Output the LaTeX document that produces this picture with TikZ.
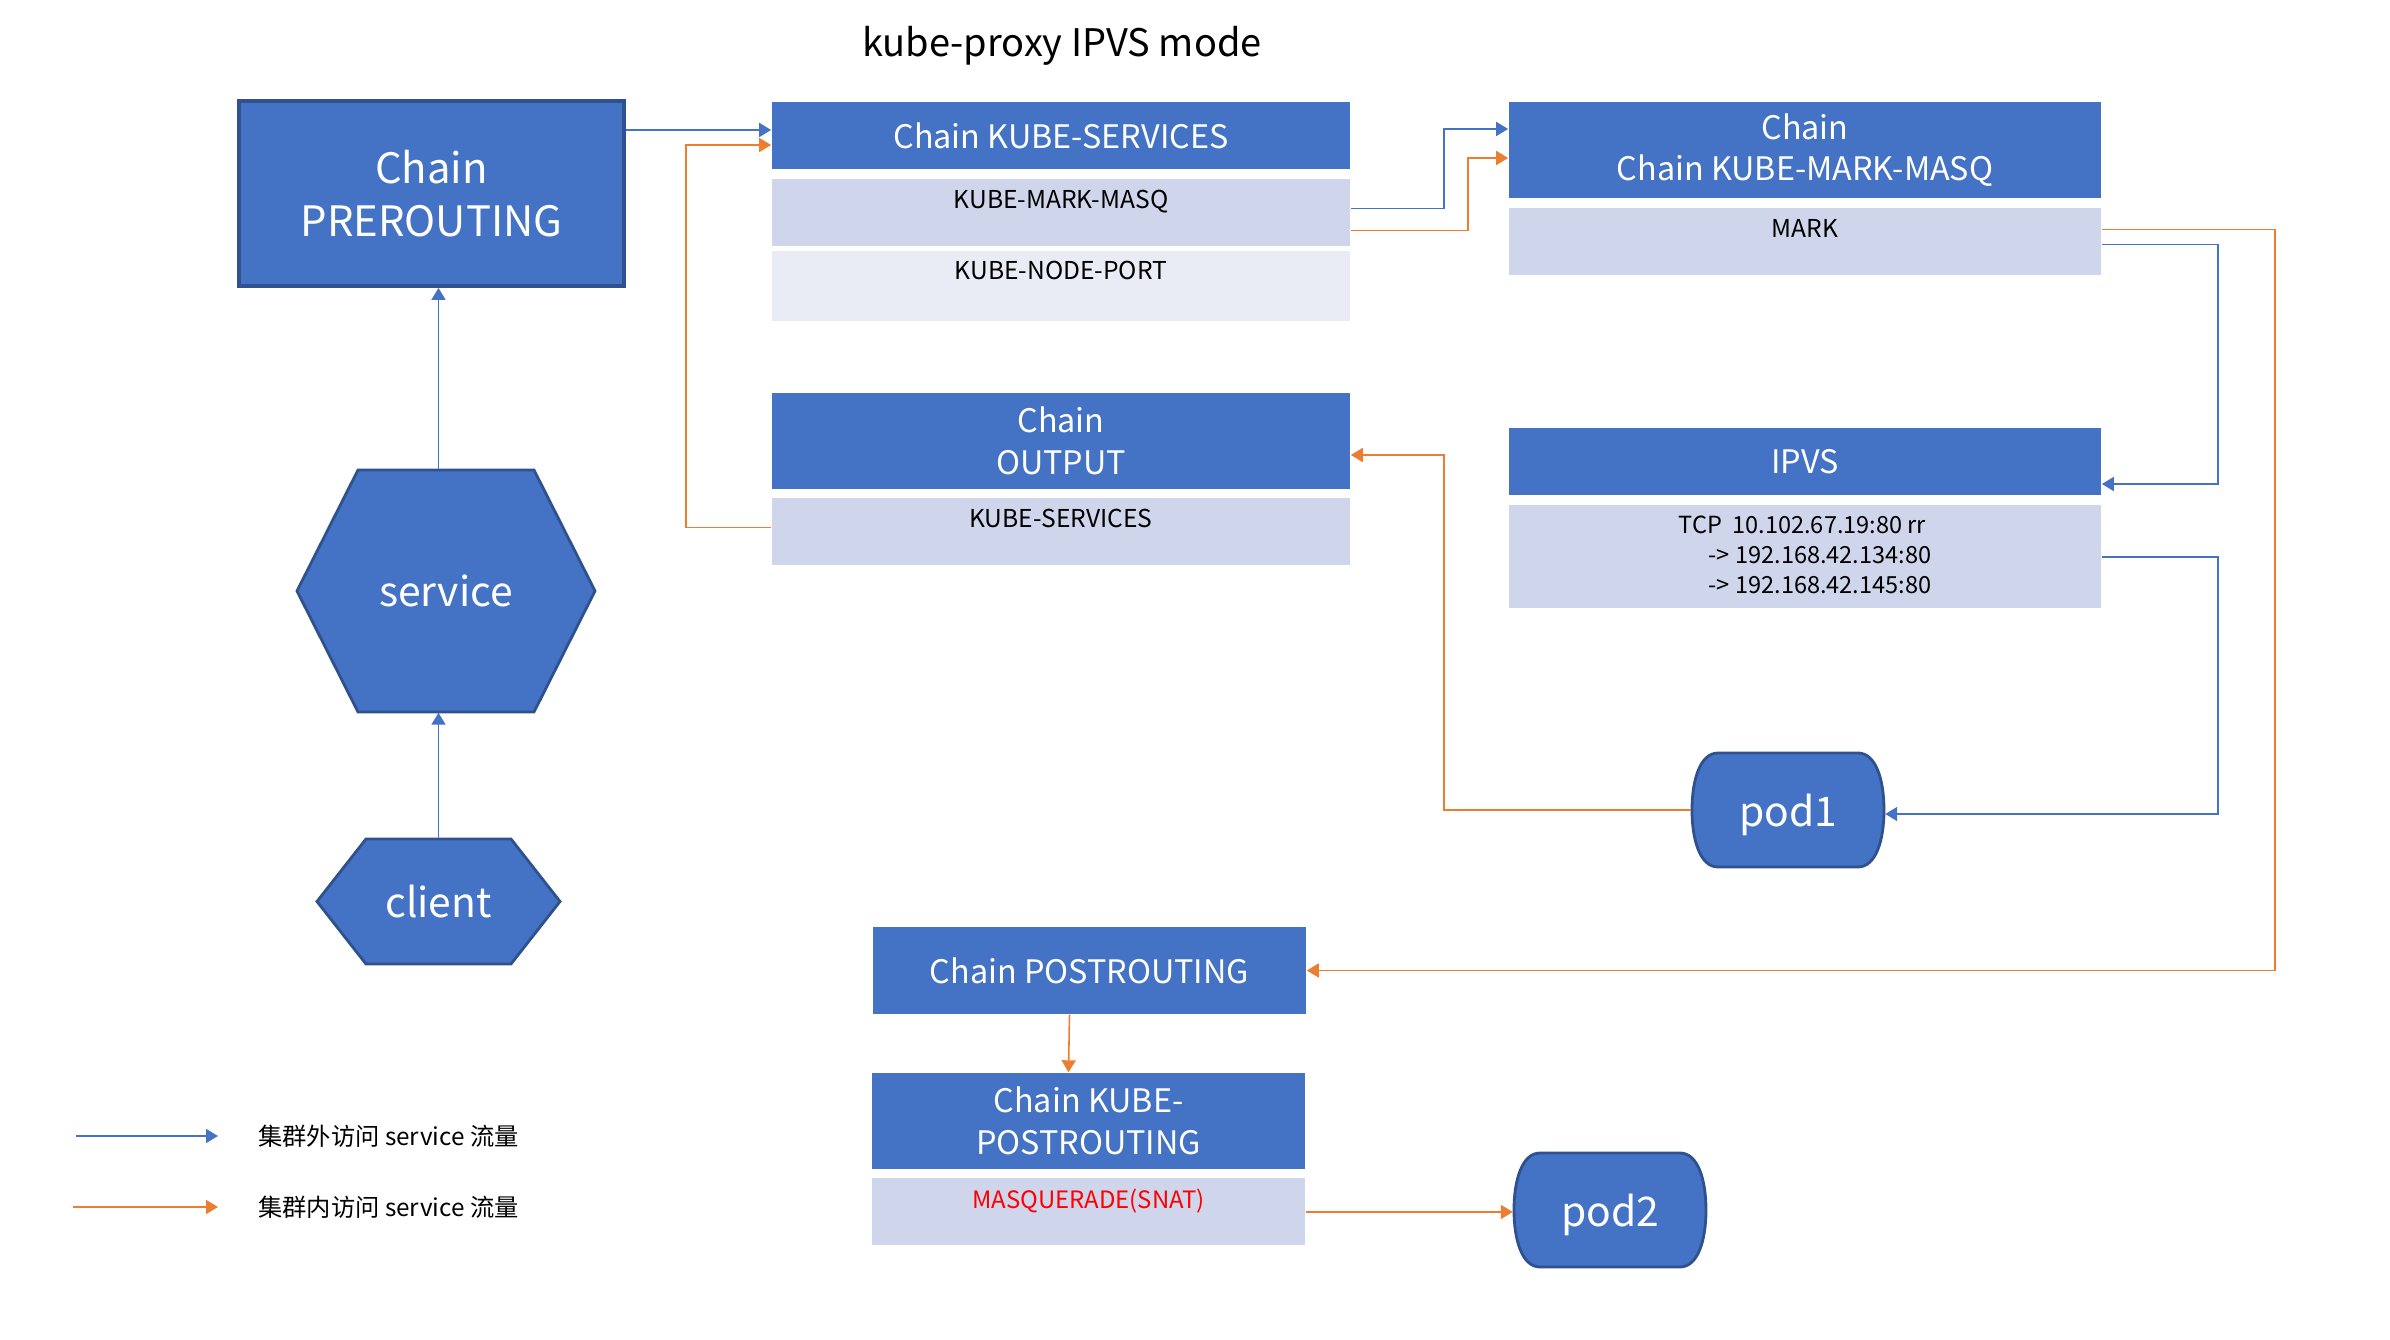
\documentclass[tikz,border=0pt]{standalone}
\usepackage{fontspec}
\setmainfont{Noto Sans CJK SC}
\usepackage{tikz}
\usetikzlibrary{positioning}
\usetikzlibrary{arrows.meta}
\usetikzlibrary{backgrounds}
\definecolor{boxblue}{HTML}{4472C4}
\definecolor{edgeblue}{HTML}{2F528F}
\definecolor{rowgrey}{HTML}{CFD5EA}
\definecolor{rowlight}{HTML}{E9EBF5}
\definecolor{lineorange}{HTML}{ED7D31}
\definecolor{masqred}{HTML}{FF0000}
\tikzset{
  headbox/.style={rectangle, fill=boxblue, text=white, align=center, inner sep=0pt, font=\fontsize{9.2}{11.8}\selectfont},
  rowbox/.style={rectangle, fill=rowgrey, inner sep=0pt},
  rowtext/.style={anchor=north, inner sep=3pt, align=left, font=\fontsize{7}{8.5}\selectfont},
  bigbox/.style={rectangle, fill=boxblue, draw=edgeblue, line width=1.1pt, text=white, align=center, font=\fontsize{11.9}{15.2}\selectfont},
  shapebox/.style={rectangle, inner sep=0pt, text=white, text depth=0pt, font=\fontsize{11.6}{14}\selectfont},
  pics/hexshape/.style n args={3}{code={
    \filldraw[fill=boxblue, draw=edgeblue, line width=0.8pt] (-#1,0) -- (-#1+#3,-#2) -- (#1-#3,-#2) -- (#1,0) -- (#1-#3,#2) -- (-#1+#3,#2) -- cycle;}},
  pics/podshape/.style={code={
    \filldraw[fill=boxblue, draw=edgeblue, line width=0.8pt] (-70,-57) -- (70,-57) .. controls (88,-57) and (96,-30) .. (96,0) .. controls (96,30) and (88,57) .. (70,57) -- (-70,57) .. controls (-88,57) and (-96,30) .. (-96,0) .. controls (-96,-30) and (-88,-57) .. (-70,-57) -- cycle;}},
  bluearrow/.style={draw=boxblue, line width=0.45pt, -{Triangle[length=3.4pt,width=4pt]}},
  orangearrow/.style={draw=lineorange, line width=0.45pt, -{Triangle[length=3.4pt,width=4pt]}},
}

\begin{document}
\begin{tikzpicture}[x=0.01cm, y=-0.01cm]
\useasboundingbox (0,0) rectangle (2390,1340);
\node[font=\fontsize{10.8}{13}\selectfont] (title) at (1062,46) {kube-proxy IPVS mode};

% left column
\node[bigbox, minimum width=3.85cm, minimum height=1.85cm] (prerouting) at (431.5,193.5) {Chain\\PREROUTING};
\node[shapebox, minimum width=2.98cm, minimum height=2.42cm] (service) at (446,591) {service};
\node[shapebox, minimum width=2.43cm, minimum height=1.25cm] (client) at (438.5,901.5) {client};

% chains
\node[headbox, minimum width=5.78cm, minimum height=0.67cm] (kubesvc) at (1061,135.5) {Chain KUBE-SERVICES};
\node[rowbox, minimum width=5.78cm, minimum height=0.67cm, below=0.09cm of kubesvc, label={[rowtext]north:KUBE-MARK-MASQ}] (svcmark) {};
\node[rowbox, fill=rowlight, minimum width=5.78cm, minimum height=0.70cm, below=0.03cm of svcmark, label={[rowtext]north:KUBE-NODE-PORT}] (svcnode) {};

\node[headbox, minimum width=5.78cm, minimum height=0.96cm] (output) at (1061,441) {Chain\\OUTPUT};
\node[rowbox, minimum width=5.78cm, minimum height=0.67cm, below=0.08cm of output, label={[rowtext]north:KUBE-SERVICES}] (outsvc) {};

\node[headbox, minimum width=5.92cm, minimum height=0.96cm] (masq) at (1805,150) {Chain\\Chain KUBE-MARK-MASQ};
\node[rowbox, minimum width=5.92cm, minimum height=0.67cm, below=0.09cm of masq, label={[rowtext]north:MARK}] (mark) {};

\node[headbox, minimum width=5.92cm, minimum height=0.67cm] (ipvs) at (1805,461.5) {IPVS};
\node[rowbox, minimum width=5.92cm, minimum height=1.03cm, below=0.09cm of ipvs,
  label={[rowtext, font=\fontsize{6.7}{8.5}\selectfont]north:TCP\ \ 10.102.67.19:80 rr\\\hspace*{8.6pt}-> 192.168.42.134:80\\\hspace*{8.6pt}-> 192.168.42.145:80}] (ipvsrule) {};

\node[headbox, minimum width=4.33cm, minimum height=0.87cm] (postrt) at (1089.5,970.5) {Chain POSTROUTING};
\node[headbox, minimum width=4.33cm, minimum height=0.96cm] (kpost) at (1088.5,1121) {Chain KUBE-\\POSTROUTING};
\node[rowbox, minimum width=4.33cm, minimum height=0.67cm, below=0.08cm of kpost, label={[rowtext, text=masqred, font=\fontsize{6.8}{8.5}\selectfont]north:MASQUERADE(SNAT)}] (kpostsnat) {};

\node[shapebox, minimum width=1.93cm, minimum height=1.15cm] (pod1) at (1788,810) {pod1};
\node[shapebox, minimum width=1.93cm, minimum height=1.15cm] (pod2) at (1610,1210) {pod2};

\begin{scope}[on background layer]
\pic at (service.center) {hexshape={149}{121}{61}};
\pic at (client.center) {hexshape={121.5}{62.5}{49}};
\pic at (pod1.center) {podshape};
\pic at (pod2.center) {podshape};
\end{scope}

% connectors
\draw[bluearrow] (client.north) -- (client.north |- service.south);
\draw[bluearrow] (client.north |- service.north) -- (client.north |- prerouting.south);
\draw[bluearrow] ([yshift=0.055cm]prerouting.east |- kubesvc.west) -- ([yshift=0.055cm]kubesvc.west);
\draw[orangearrow] ([yshift=0.045cm]outsvc.west) -- ++(-85,0) |- ([yshift=-0.095cm]kubesvc.west);
\draw[bluearrow] ([yshift=0.045cm]svcmark.east) -- ++(93,0) |- ([yshift=0.21cm]masq.west);
\draw[orangearrow] ([yshift=-0.175cm]svcmark.east) -- ++(117,0) |- ([yshift=-0.08cm]masq.west);
\draw[orangearrow] ([yshift=0.125cm]mark.east) -- ++(173,0) |- (postrt.east);
\draw[bluearrow] ([yshift=-0.025cm]mark.east) -- ++(116,0) |- ([yshift=-0.225cm]ipvs.east);
\draw[bluearrow] (ipvsrule.east) -- ++(116,0) |- ([yshift=-0.04cm]pod1.east);
\draw[orangearrow] (pod1.west) -- ++(-247,0) |- ([yshift=-0.14cm]output.east);
\draw[orangearrow] ([xshift=-0.2cm]postrt.south) -- ([xshift=-0.2cm]kpost.north);
\draw[orangearrow] (kpostsnat.east) -- (kpostsnat.east -| pod2.west);

% legend
\coordinate (legblue) at (76,1136);
\coordinate (legorange) at (73,1207);
\node[anchor=west, font=\fontsize{6.9}{8}\selectfont] (legbluetxt) at (246,1136) {集群外访问 service 流量};
\node[anchor=west, font=\fontsize{6.9}{8}\selectfont] (legorangetxt) at (246,1207) {集群内访问 service 流量};
\draw[bluearrow] (legblue) -- ([xshift=-0.28cm]legbluetxt.west);
\draw[orangearrow] (legorange) -- ([xshift=-0.28cm]legorangetxt.west);
\end{tikzpicture}
\end{document}
